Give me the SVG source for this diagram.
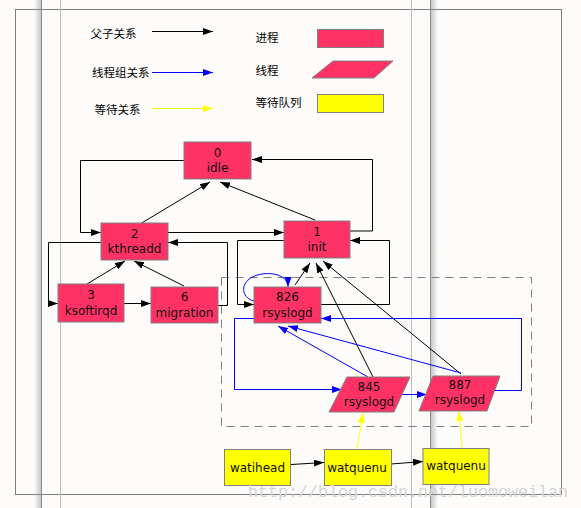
<svg xmlns="http://www.w3.org/2000/svg" width="581" height="508" viewBox="0 0 581 508">
<style>
.bg{fill:#fdfcfb}
.frame{fill:none;stroke:#808080;stroke-width:1}
.vdark{stroke:#8a8a8a;stroke-width:1}
.vlight{stroke:#bdbdbd;stroke-width:1}
.proc{fill:#fe3264;stroke:#808080;stroke-width:1}
.wait{fill:#ffff00;stroke:#808080;stroke-width:1}
.lbl{font-family:"DejaVu Sans","Noto Sans",sans-serif;font-size:12px;fill:#111;text-anchor:middle}
.cjk{font-family:"Noto Sans CJK SC","Noto Sans",sans-serif;font-size:11.5px;fill:#000}
.k{fill:none;stroke:#000;stroke-width:1;marker-end:url(#ak)}
.b{fill:none;stroke:#0000ff;stroke-width:1;marker-end:url(#ab)}
.y{fill:none;stroke:#ffff00;stroke-width:1;marker-end:url(#ay)}
.dash{fill:none;stroke:#808080;stroke-width:1;stroke-dasharray:8,6}
.wm{font-family:"Liberation Mono",monospace;font-size:16.5px;fill:#d4d4d4}
</style>
<defs>
<marker id="ak" markerUnits="userSpaceOnUse" markerWidth="11" markerHeight="8" refX="10" refY="3.5" orient="auto"><path d="M0,0 L10,3.5 L0,7 Z" fill="#000"/></marker>
<marker id="ab" markerUnits="userSpaceOnUse" markerWidth="11" markerHeight="8" refX="10" refY="3.5" orient="auto"><path d="M0,0 L10,3.5 L0,7 Z" fill="#0000ff"/></marker>
<marker id="ay" markerUnits="userSpaceOnUse" markerWidth="11" markerHeight="8" refX="10" refY="3.5" orient="auto"><path d="M0,0 L10,3.5 L0,7 Z" fill="#ffff00"/></marker>
<linearGradient id="shL" x1="0" x2="1" y1="0" y2="0"><stop offset="0" stop-color="#fdfcfb"/><stop offset="1" stop-color="#c8c8c8"/></linearGradient>
<linearGradient id="shR" x1="0" x2="1" y1="0" y2="0"><stop offset="0" stop-color="#c8c8c8"/><stop offset="1" stop-color="#fdfcfb"/></linearGradient>
</defs>
<rect class="bg" x="0" y="0" width="581" height="508"/>
<g id="background-frame">
<rect x="34" y="0" width="7" height="508" fill="url(#shL)"/>
<rect x="431" y="0" width="7" height="508" fill="url(#shR)"/>
<rect class="frame" x="15.5" y="9.5" width="546" height="485"/>
<line class="vdark" x1="41.5" y1="0" x2="41.5" y2="508"/>
<line class="vlight" x1="60.5" y1="0" x2="60.5" y2="508"/>
<line class="vlight" x1="411.5" y1="0" x2="411.5" y2="508"/>
<line class="vdark" x1="430.5" y1="0" x2="430.5" y2="508"/>
</g>
<g id="legend">
<text class="cjk" x="90.5" y="37.5">父子关系</text>
<path class="k" d="M152,31.5 H213"/>
<text class="cjk" x="92" y="77">线程组关系</text>
<path class="b" d="M152,72.5 H213"/>
<text class="cjk" x="94.5" y="114">等待关系</text>
<path class="y" d="M152,108.5 H213"/>
<text class="cjk" x="255.5" y="42">进程</text>
<rect class="proc" x="317.5" y="29.5" width="66" height="18"/>
<text class="cjk" x="255.5" y="74.5">线程</text>
<polygon class="proc" points="333,61 393,61 374,78 312,78"/>
<text class="cjk" x="255.5" y="107">等待队列</text>
<rect class="wait" x="317.5" y="94.5" width="66" height="18"/>
</g>
<rect id="thread-group" class="dash" x="221.5" y="277.5" width="310" height="149"/>
<g id="connectors">
<path class="k" d="M184,160.5 H80.5 V232.5 H101"/>
<path class="k" d="M140,224 L210,182"/>
<path class="k" d="M315,220 L220,182"/>
<path class="k" d="M350,231 H372.5 V159.5 H252"/>
<path class="k" d="M168,232.5 H284"/>
<path class="k" d="M101,242.5 H48.5 V303.5 H58"/>
<path class="k" d="M87,284 L125,261"/>
<path class="k" d="M184,286 L134,261"/>
<path class="k" d="M124,303.5 H151"/>
<path class="k" d="M218,305.5 H227.5 V242.5 H168"/>
<path class="k" d="M284,240.5 H237.5 V304.5 H254"/>
<path class="k" d="M321,304.5 H389.5 V240.5 H350"/>
<path class="k" d="M295,285 L310,263"/>
<path class="k" d="M373,377 L316,263"/>
<path class="k" d="M461,374 L323,261"/>
<path class="b" d="M254,301 C240,298 238,278 262,274 C278,272 288,278 288,287"/>
<path class="b" d="M254,318.5 H234.5 V389.5 H342"/>
<path class="b" d="M399,394.5 H427"/>
<path class="b" d="M495,390.5 H521.5 V318.5 H321"/>
<path class="b" d="M368,377 L278,326"/>
<path class="b" d="M461,373 L288,326"/>
<path class="y" d="M357,449 L363,413"/>
<path class="y" d="M462,448 L459,411"/>
<path class="k" d="M291,464.5 L324,462.5"/>
<path class="k" d="M391,464 L423,461.5"/>
</g>
<g id="node-idle">
<rect class="proc" x="184" y="142" width="67" height="37"/>
<text class="lbl" x="217.5" y="156.5">0</text>
<text class="lbl" x="217.5" y="171.5">idle</text>
</g>
<g id="node-kthreadd">
<rect class="proc" x="101" y="223" width="67" height="37"/>
<text class="lbl" x="134.5" y="237.5">2</text>
<text class="lbl" x="134.5" y="253">kthreadd</text>
</g>
<g id="node-init">
<rect class="proc" x="284" y="221" width="66" height="37"/>
<text class="lbl" x="317" y="235.5">1</text>
<text class="lbl" x="317" y="251">init</text>
</g>
<g id="node-ksoftirqd">
<rect class="proc" x="58" y="284" width="66" height="38"/>
<text class="lbl" x="91" y="299">3</text>
<text class="lbl" x="91" y="314.5">ksoftirqd</text>
</g>
<g id="node-migration">
<rect class="proc" x="151" y="287" width="67" height="36"/>
<text class="lbl" x="184.5" y="301">6</text>
<text class="lbl" x="184.5" y="316.5">migration</text>
</g>
<g id="node-826">
<rect class="proc" x="254" y="287" width="67" height="36"/>
<text class="lbl" x="287.5" y="301">826</text>
<text class="lbl" x="287.5" y="316.5">rsyslogd</text>
</g>
<g id="node-845">
<polygon class="proc" points="347,377 410,377 394,412 329,412"/>
<text class="lbl" x="369" y="391">845</text>
<text class="lbl" x="369" y="405.5">rsyslogd</text>
</g>
<g id="node-887">
<polygon class="proc" points="433,376 500,376 487,411 419,411"/>
<text class="lbl" x="460" y="389">887</text>
<text class="lbl" x="460" y="404">rsyslogd</text>
</g>
<g id="node-watihead">
<rect class="wait" x="224.5" y="449.5" width="66" height="36"/>
<text class="lbl" x="257.5" y="472">watihead</text>
</g>
<g id="node-watquenu1">
<rect class="wait" x="324.5" y="449.5" width="67" height="36"/>
<text class="lbl" x="357" y="472">watquenu</text>
</g>
<g id="node-watquenu2">
<rect class="wait" x="423" y="448.5" width="66" height="36"/>
<text class="lbl" x="456" y="470">watquenu</text>
</g>
<text class="wm" x="248" y="497" textLength="320" lengthAdjust="spacingAndGlyphs">http://blog.csdn.net/luomoweilan</text>
</svg>
